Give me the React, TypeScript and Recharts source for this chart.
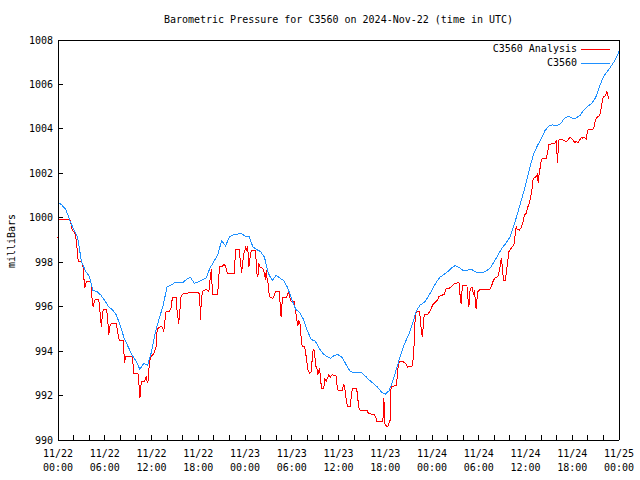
import { LineChart, Line, XAxis, YAxis } from 'recharts'

const TITLE = 'Barometric Pressure for C3560 on 2024-Nov-22 (time in UTC)'
const Y_LABEL = 'milliBars'
const SERIES_NAMES = ['C3560 Analysis', 'C3560']
const SERIES_COLORS = ['#ff0000', '#1e90ff']

// hours since 11/22 00:00 UTC
const X_TICKS = [0, 2, 4, 6, 8, 10, 12, 14, 16, 18, 20, 22, 24, 26, 28, 30, 32, 34, 36,
  38, 40, 42, 44, 46, 48, 50, 52, 54, 56, 58, 60, 62, 64, 66, 68, 70, 72]
const X_LABEL_DATES = ['11/22', '11/22', '11/22', '11/22', '11/23', '11/23', '11/23',
  '11/23', '11/24', '11/24', '11/24', '11/24', '11/25']
const X_LABEL_TIMES = ['00:00', '06:00', '12:00', '18:00', '00:00', '06:00', '12:00',
  '18:00', '00:00', '06:00', '12:00', '18:00', '00:00']
const Y_TICKS = [990, 992, 994, 996, 998, 1000, 1002, 1004, 1006, 1008]

// C3560 station, every half hour
const BLUE_HOURS = [
  0, 0.5, 1, 1.5, 2, 2.5, 3, 3.5, 4, 4.5, 5, 5.5, 6, 6.5, 7, 7.5, 8, 8.5, 9, 9.5,
  10, 10.5, 11, 11.5, 12, 12.5, 13, 13.5, 14, 14.5, 15, 15.5, 16, 16.5, 17, 17.5, 18, 18.5, 19, 19.5,
  20, 20.5, 21, 21.5, 22, 22.5, 23, 23.5, 24, 24.5, 25, 25.5, 26, 26.5, 27, 27.5, 28, 28.5, 29, 29.5,
  30, 30.5, 31, 31.5, 32, 32.5, 33, 33.5, 34, 34.5, 35, 35.5, 36, 36.5, 37, 37.5, 38, 38.5, 39, 39.5,
  40, 40.5, 41, 41.5, 42, 42.5, 43, 43.5, 44, 44.5, 45, 45.5, 46, 46.5, 47, 47.5, 48, 48.5, 49, 49.5,
  50, 50.5, 51, 51.5, 52, 52.5, 53, 53.5, 54, 54.5, 55, 55.5, 56, 56.5, 57, 57.5, 58, 58.5, 59, 59.5,
  60, 60.5, 61, 61.5, 62, 62.5, 63, 63.5, 64, 64.5, 65, 65.5, 66, 66.5, 67, 67.5, 68, 68.5, 69, 69.5,
  70, 70.5, 71, 71.5, 72,
]
const BLUE_VALUES = [
  1000.7, 1000.57, 1000.38, 999.9, 999.48, 999.15, 998.05, 997.62, 997.38, 996.72,
  996.68, 996.52, 996.27, 996.0, 995.85, 995.62, 995.13, 994.57, 994.2, 993.82,
  993.57, 993.18, 993.45, 993.37, 993.97, 994.87, 995.47, 996.07, 996.9, 996.97,
  997.08, 997.1, 997.08, 997.23, 997.32, 997.05, 997.12, 997.2, 997.28, 997.73,
  998.03, 998.34, 998.97, 998.73, 999.15, 999.24, 999.26, 999.3, 999.18, 999.18,
  998.7, 998.57, 998.48, 998.22, 997.5, 997.17, 997.42, 997.28, 997.17, 996.83,
  996.33, 995.89, 995.74, 995.43, 994.92, 994.52, 994.46, 994.14, 993.89, 993.75,
  993.68, 993.82, 993.83, 993.7, 993.38, 993.08, 993.04, 993.05, 993.02, 992.86,
  992.68, 992.54, 992.38, 992.16, 992.06, 992.22, 992.69, 993.27, 993.86, 994.35,
  994.73, 995.24, 995.82, 996.08, 996.19, 996.43, 996.76, 997.07, 997.32, 997.44,
  997.57, 997.74, 997.85, 997.76, 997.62, 997.64, 997.7, 997.57, 997.52, 997.54,
  997.61, 997.76, 998.03, 998.34, 998.64, 998.86, 999.13, 999.63, 1000.23, 1000.83,
  1001.45, 1002.18, 1002.83, 1003.23, 1003.54, 1003.92, 1004.13, 1004.18, 1004.15, 1004.23,
  1004.48, 1004.56, 1004.49, 1004.49, 1004.61, 1004.86, 1005.02, 1005.15, 1005.41, 1005.9,
  1006.35, 1006.58, 1006.83, 1007.1, 1007.48,
]

// analysis, irregular samples
const RED_HOURS = [
  0, 0.08, 1.53, 1.66, 1.83, 2.17, 2.38, 2.51, 2.6, 3.02, 3.23, 3.36, 3.45, 3.53, 3.7,
  4.21, 4.3, 4.38, 4.51, 4.6, 4.72, 5.23, 5.36, 5.45, 5.57, 5.66, 5.79, 6.21, 6.34, 6.43,
  6.51, 6.64, 6.85, 7.49, 7.62, 7.79, 7.91, 8.34, 8.47, 8.55, 8.64, 9.49, 9.62, 9.74, 10.26,
  10.38, 10.51, 10.6, 10.68, 11.11, 11.32, 11.45, 11.53, 11.62, 11.74, 11.96, 12.3, 12.47, 12.6, 12.68,
  12.81, 13.15, 13.45, 13.53, 13.66, 13.79, 13.87, 14.3, 14.51, 14.6, 14.72, 15.15, 15.23, 15.36, 15.49,
  15.57, 15.7, 15.79, 16.0, 16.85, 17.91, 18.13, 18.21, 18.3, 18.38, 18.55, 18.98, 19.32, 19.4, 19.49,
  19.62, 19.7, 19.74, 19.83, 20.47, 20.6, 20.68, 20.77, 21.11, 21.32, 21.53, 21.74, 22.6, 22.72, 22.81,
  23.23, 23.32, 23.45, 23.57, 23.74, 23.87, 24.09, 24.21, 24.34, 24.43, 24.51, 24.64, 24.81, 25.36, 25.44,
  25.53, 25.65, 25.78, 25.87, 26.29, 26.51, 26.63, 26.72, 26.85, 26.97, 27.06, 27.14, 27.57, 27.78, 27.91,
  28.42, 28.55, 28.63, 28.76, 28.85, 29.28, 29.48, 29.57, 29.74, 29.91, 30.32, 30.45, 30.58, 30.66, 30.77,
  30.92, 31.09, 31.22, 31.34, 31.64, 31.77, 31.85, 32.07, 32.28, 32.49, 32.71, 32.83, 32.96, 33.05, 33.22,
  33.34, 33.47, 33.56, 33.64, 33.81, 34.11, 34.24, 34.41, 34.62, 34.75, 34.92, 35.2, 35.71, 35.8, 35.97,
  36.48, 36.65, 36.78, 36.91, 37.08, 37.2, 37.5, 37.63, 37.76, 38.27, 38.4, 38.57, 38.69, 39.67, 39.84,
  40.64, 40.85, 40.94, 41.7, 41.79, 41.83, 41.91, 42.13, 42.34, 42.55, 42.64, 42.68, 42.77, 43.4, 43.53,
  43.62, 43.7, 43.83, 44.26, 44.68, 44.89, 45.02, 45.48, 45.56, 45.69, 45.77, 45.9, 46.41, 46.5, 46.63,
  46.75, 46.84, 46.92, 47.05, 47.48, 47.69, 47.9, 48.11, 48.33, 48.54, 48.75, 48.88, 49.39, 49.6, 49.82,
  50.26, 50.48, 50.69, 50.9, 51.45, 51.54, 51.62, 51.75, 51.84, 51.96, 52.48, 52.56, 52.65, 52.73, 52.82,
  52.9, 53.16, 53.24, 53.33, 53.45, 53.58, 53.67, 53.79, 53.88, 54.09, 55.4, 55.61, 55.82, 56.04, 56.25,
  56.46, 56.68, 56.89, 57.02, 57.1, 57.23, 57.44, 57.53, 57.74, 57.87, 58.08, 58.29, 58.51, 58.59, 58.72,
  58.8, 58.93, 59.23, 59.44, 59.65, 59.87, 60.08, 60.32, 60.54, 60.75, 60.88, 60.96, 61.17, 61.39, 61.51,
  61.64, 61.73, 61.9, 62.02, 62.24, 62.66, 62.88, 63.0, 63.3, 63.73, 63.85, 63.94, 64.02, 64.11, 64.19,
  64.28, 64.58, 64.79, 65.22, 65.46, 65.67, 65.88, 66.1, 66.31, 66.52, 66.74, 66.95, 67.16, 67.37, 67.59,
  67.8, 67.88, 68.01, 68.22, 68.65, 68.78, 68.99, 69.16, 69.42, 69.59, 69.71, 69.84, 70.01, 70.14, 70.27,
  70.44, 70.57, 70.69,
]
const RED_VALUES = [
  999.1, 999.93, 999.93, 999.75, 999.45, 999.3, 998.92, 998.33, 998.03, 998.03, 997.77, 997.12, 996.82, 997.05, 997.12,
  997.15, 996.82, 996.3, 996.0, 996.15, 996.3, 996.33, 995.92, 995.47, 995.1, 995.47, 995.85, 995.88, 995.62, 995.17,
  994.72, 995.1, 995.25, 995.25, 994.95, 994.58, 994.5, 994.5, 993.9, 993.45, 993.75, 993.75, 993.45, 993.0, 993.0,
  992.55, 991.88, 992.13, 992.62, 992.62, 992.85, 992.62, 992.58, 992.92, 993.52, 993.75, 993.9, 994.05, 994.2, 994.8,
  995.02, 995.1, 995.07, 994.88, 995.1, 995.6, 995.78, 995.8, 995.95, 996.22, 996.42, 996.42, 996.0, 995.6, 995.23,
  995.55, 996.05, 996.45, 996.57, 996.63, 996.63, 996.6, 996.15, 995.4, 996.25, 996.69, 996.78, 996.68, 996.75, 997.13,
  997.5, 997.68, 997.2, 996.53, 996.53, 997.05, 997.58, 997.8, 997.83, 997.92, 997.8, 997.5, 997.5, 998.1, 998.58,
  998.58, 998.33, 997.88, 997.53, 998.1, 998.4, 998.67, 998.55, 998.73, 998.25, 997.8, 998.18, 998.52, 998.52, 997.95,
  997.5, 997.35, 997.95, 997.8, 997.73, 997.5, 997.2, 997.65, 997.2, 997.05, 996.68, 996.45, 996.36, 996.53, 996.68,
  996.68, 995.85, 995.55, 996.18, 996.42, 996.42, 996.53, 996.68, 996.45, 996.23, 996.23, 995.85, 995.63, 995.4, 995.13,
  995.37, 995.18, 994.5, 994.23, 994.2, 993.98, 993.75, 993.15, 993.0, 993.08, 993.98, 994.08, 993.83, 993.33, 993.27,
  992.93, 993.12, 993.18, 993.0, 992.33, 992.33, 992.78, 992.63, 992.82, 992.93, 992.82, 992.93, 992.88, 992.48, 992.22,
  992.22, 992.48, 992.43, 991.98, 991.65, 991.5, 991.5, 991.9, 992.3, 992.33, 992.15, 991.55, 991.35, 991.32, 991.2,
  991.13, 990.98, 990.83, 990.83, 991.88, 991.88, 990.75, 990.63, 990.63, 990.83, 990.9, 992.1, 992.4, 992.45, 992.78,
  993.15, 993.45, 993.53, 993.53, 993.42, 993.27, 993.3, 993.33, 993.6, 994.23, 995.03, 995.75, 995.78, 995.4, 994.95,
  994.65, 994.95, 995.48, 995.63, 995.66, 995.78, 995.93, 996.08, 996.18, 996.23, 996.33, 996.45, 996.53, 996.57, 996.83,
  996.84, 996.9, 996.98, 997.05, 997.08, 996.9, 996.38, 996.1, 996.68, 996.95, 996.95, 996.68, 996.23, 995.97, 996.42,
  996.83, 996.86, 996.72, 996.53, 996.75, 996.15, 995.88, 996.42, 996.68, 996.75, 996.78, 996.9, 997.13, 997.28, 997.32,
  997.35, 997.65, 998.18, 997.8, 997.47, 997.17, 997.17, 997.53, 998.1, 998.48, 998.58, 998.7, 998.78, 999.0, 999.38,
  999.6, 999.48, 999.45, 999.55, 999.75, 1000.13, 1000.2, 1000.5, 1000.73, 1001.1, 1001.4, 1001.7, 1001.82, 1001.85, 1001.93,
  1001.55, 1001.93, 1002.3, 1002.6, 1002.68, 1002.68, 1003.02, 1003.28, 1003.32, 1003.35, 1003.38, 1003.5, 1003.05, 1002.45, 1003.05,
  1003.5, 1003.53, 1003.5, 1003.43, 1003.5, 1003.62, 1003.58, 1003.5, 1003.38, 1003.43, 1003.38, 1003.5, 1003.62, 1003.58, 1003.62,
  1003.53, 1003.73, 1003.95, 1003.98, 1003.98, 1004.07, 1004.4, 1004.52, 1004.58, 1004.7, 1004.93, 1005.23, 1005.45, 1005.45, 1005.53,
  1005.68, 1005.53, 1005.33,
]

const FONT = '"DejaVu Sans Mono", monospace'
const TICK_LEN = 5

const redData = RED_HOURS.map((h, i) => ({ h, v: RED_VALUES[i] }))
const blueData = BLUE_HOURS.map((h, i) => ({ h, v: BLUE_VALUES[i] }))

function BottomTick(props: any) {
  const { x, y, payload } = props
  const h = payload.value
  const i = h / 6
  return (
    <g>
      <line x1={x} x2={x} y1={y} y2={y - TICK_LEN} stroke="#000" shapeRendering="crispEdges" />
      {h % 6 === 0 && (
        <text x={x} y={y + 16.5} textAnchor="middle" fontFamily={FONT} fontSize={10} fill="#000">
          <tspan x={x}>{X_LABEL_DATES[i]}</tspan>
          <tspan x={x} dy={14}>{X_LABEL_TIMES[i]}</tspan>
        </text>
      )}
    </g>
  )
}

function TopTick(props: any) {
  const { x, y } = props
  return <line x1={x} x2={x} y1={y} y2={y + TICK_LEN} stroke="#000" shapeRendering="crispEdges" />
}

function LeftTick(props: any) {
  const { x, y, payload } = props
  return (
    <g>
      <line x1={x} x2={x + TICK_LEN} y1={y} y2={y} stroke="#000" shapeRendering="crispEdges" />
      <text x={x - 5} y={y} dy="0.35em" textAnchor="end" fontFamily={FONT} fontSize={10} fill="#000">
        {payload.value}
      </text>
    </g>
  )
}

function RightTick(props: any) {
  const { x, y } = props
  return <line x1={x} x2={x - TICK_LEN} y1={y} y2={y} stroke="#000" shapeRendering="crispEdges" />
}

export default function App() {
  const textStyle = { fontFamily: FONT, fontSize: 10, color: '#000', lineHeight: '12px', whiteSpace: 'nowrap' as const }
  const axisLine = { stroke: '#000', shapeRendering: 'crispEdges' }
  return (
    <div style={{ position: 'absolute', left: 0, top: 0, width: 640, height: 480, background: '#fff' }}>
      <LineChart width={640} height={480} margin={{ top: 39, right: 20, bottom: 39, left: 57 }}>
        <XAxis
          xAxisId="bottom" dataKey="h" type="number" domain={[0, 72]} ticks={X_TICKS}
          height={1} tickSize={0} tickMargin={0} tickLine={false} interval={0}
          axisLine={axisLine} tick={<BottomTick />}
        />
        <XAxis
          xAxisId="top" orientation="top" dataKey="h" type="number" domain={[0, 72]} ticks={X_TICKS}
          height={1} tickSize={0} tickMargin={0} tickLine={false} interval={0}
          axisLine={axisLine} tick={<TopTick />}
        />
        <YAxis
          yAxisId="left" type="number" domain={[990, 1008]} ticks={Y_TICKS}
          width={1} tickSize={0} tickMargin={0} tickLine={false} interval={0}
          axisLine={axisLine} tick={<LeftTick />}
        />
        <YAxis
          yAxisId="right" orientation="right" type="number" domain={[990, 1008]} ticks={Y_TICKS}
          width={1} tickSize={0} tickMargin={0} tickLine={false} interval={0}
          axisLine={axisLine} tick={<RightTick />}
        />
        <Line
          xAxisId="bottom" yAxisId="left" data={redData} dataKey="v" name={SERIES_NAMES[0]}
          type="linear" stroke={SERIES_COLORS[0]} strokeWidth={1} dot={false} isAnimationActive={false}
          shapeRendering="crispEdges"
        />
        <Line
          xAxisId="bottom" yAxisId="left" data={blueData} dataKey="v" name={SERIES_NAMES[1]}
          type="linear" stroke={SERIES_COLORS[1]} strokeWidth={1} dot={false} isAnimationActive={false}
          shapeRendering="crispEdges"
        />
      </LineChart>

      <div style={{ ...textStyle, position: 'absolute', top: 14, left: 58, width: 561, textAlign: 'center' }}>
        {TITLE}
      </div>
      <div
        style={{
          ...textStyle, position: 'absolute', left: 12, top: 241,
          transform: 'translate(-50%, -50%) rotate(-90deg)',
        }}
      >
        {Y_LABEL}
      </div>

      {SERIES_NAMES.map((name, i) => (
        <div key={name}>
          <div style={{ ...textStyle, position: 'absolute', left: 400, width: 177, top: 43 + i * 14, textAlign: 'right' }}>
            {name}
          </div>
          <div style={{ position: 'absolute', left: 581, width: 29, top: 49 + i * 14, height: 1, background: SERIES_COLORS[i] }} />
        </div>
      ))}
    </div>
  )
}
